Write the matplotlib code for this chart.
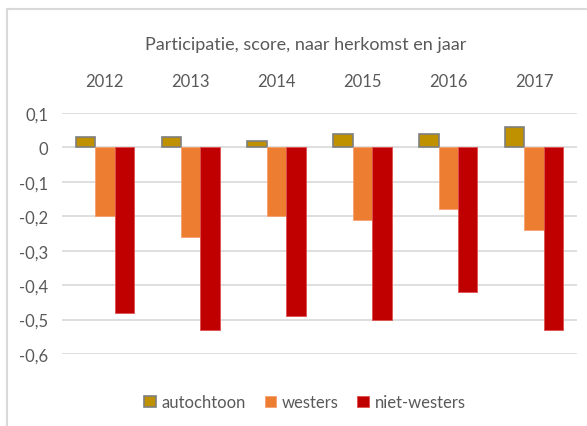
import numpy as np
import matplotlib.pyplot as plt
from matplotlib.lines import Line2D

plt.rcParams['font.family'] = ['Lato', 'DejaVu Sans']

years = ['2012', '2013', '2014', '2015', '2016', '2017']
autochtoon = [0.03, 0.03, 0.02, 0.04, 0.04, 0.06]
westers = [-0.20, -0.26, -0.20, -0.21, -0.18, -0.24]
niet_westers = [-0.48, -0.53, -0.49, -0.50, -0.42, -0.53]

grey = '#595959'
fig = plt.figure(figsize=(5.87, 4.27), dpi=100)
ax = fig.add_axes([62/587, 1 - 355/427, 515/587, (355 - 114)/427])

# chart frame (only top and left visible in crop)
fig.add_artist(Line2D([7/587, 7/587], [0, 1 - 10/427], color='#d9d9d9', lw=1.5))
fig.add_artist(Line2D([7/587, 1], [1 - 10/427, 1 - 10/427], color='#d9d9d9', lw=1.5))

x = np.arange(len(years))
w = 0.227
ax.bar(x - w, autochtoon, w, color='#BF9000', edgecolor='#7f7f7f', lw=1.2, label='autochtoon', zorder=3)
ax.bar(x, westers, w, color='#ED7D31', edgecolor='#f4a070', lw=0.6, label='westers', zorder=3)
ax.bar(x + w, niet_westers, w, color='#C00000', edgecolor='#e05050', lw=0.6, label='niet-westers', zorder=3)

ax.set_xlim(-0.5, len(years) - 0.5)
ax.set_ylim(-0.6, 0.1)
yt = np.round(np.arange(-0.6, 0.11, 0.1), 1)
ax.set_yticks(yt)
ax.set_yticklabels([('%g' % v).replace('.', ',') if v != 0 else '0' for v in yt])
ax.yaxis.grid(True, color='#d9d9d9', lw=1.2, zorder=0)
for s in ax.spines.values():
    s.set_visible(False)
ax.tick_params(axis='y', length=0, pad=10, labelsize=12, labelcolor=grey)

ax.xaxis.tick_top()
ax.set_xticks(x)
ax.set_xticklabels(years)
ax.tick_params(axis='x', length=0, pad=17, labelsize=12, labelcolor=grey)

fig.text(0.5 + 12/587, 1 - 45/427, 'Participatie, score, naar herkomst en jaar', ha='center', va='center',
         fontsize=13, color=grey)

ax.legend(loc='center', bbox_to_anchor=(0.472, -0.2), ncol=3, frameon=False, fontsize=12,
          labelcolor=grey, handlelength=0.7, handleheight=0.7, handletextpad=0.35, columnspacing=1.1)

fig.savefig('out.png', dpi=100)
